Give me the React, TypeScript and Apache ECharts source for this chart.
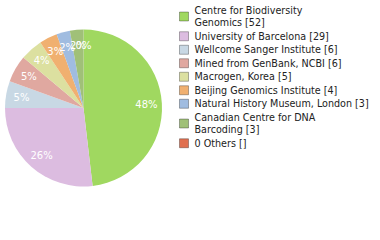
import React, { useEffect, useRef } from "react";
import * as echarts from "echarts";

const names = [
  "Centre for Biodiversity\nGenomics",
  "University of Barcelona",
  "Wellcome Sanger Institute",
  "Mined from GenBank, NCBI",
  "Macrogen, Korea",
  "Beijing Genomics Institute",
  "Natural History Museum, London",
  "Canadian Centre for DNA\nBarcoding",
  "0 Others",
];
const values = [52, 29, 6, 6, 5, 4, 3, 3, 0];
const legendCounts = ["52", "29", "6", "6", "5", "4", "3", "3", ""];
const colors = ["#a0d860", "#dcbce0", "#c8d8e4", "#e0a8a0", "#dce0a0", "#f0b070", "#a0bce0", "#a0c078", "#e07050"];

export default function App() {
  const ref = useRef<HTMLDivElement>(null);
  useEffect(() => {
    const chart = echarts.init(ref.current!, null, { renderer: "svg" });
    const total = values.reduce((a, b) => a + b, 0);
    const data = names.map((n, i) => ({ name: n, value: values[i], itemStyle: { color: colors[i] } }));
    const labelPie = (parity: number) => ({
      type: "pie",
      silent: true,
      center: [83.5, 108],
      radius: [42, 78],
      startAngle: 90,
      clockwise: true,
      avoidLabelOverlap: false,
      legendHoverLink: false,
      minShowLabelAngle: 0,
      labelLayout: { hideOverlap: false },
      itemStyle: { color: "transparent", borderWidth: 0 },
      label: {
        show: true,
        position: "inside",
        color: "#fff",
        fontFamily: "DejaVu Sans",
        fontSize: 10,
        formatter: (p: any) => `${Math.floor((p.value / total) * 100)}%`,
      },
      labelLine: { show: false },
      data: names.map((n, i) => ({
        name: n + " ".repeat(parity + 1),
        value: values[i],
        label: { show: i % 2 === parity },
      })),
    });
    chart.setOption({
      animation: false,
      legend: {
        orient: "vertical",
        left: 174,
        top: -1,
        itemWidth: 9,
        itemHeight: 9,
        itemGap: 1,
        icon: "rect",
        itemStyle: { borderColor: "rgba(0,0,0,0.3)", borderWidth: 1 },
        textStyle: { fontFamily: "DejaVu Sans", fontSize: 9.6, color: "#222", lineHeight: 12.5, padding: [0, 0, 0, 1] },
        formatter: (n: string) => {
          const i = names.indexOf(n);
          return `${n} [${legendCounts[i]}]`;
        },
        data: names,
      },
      series: [
        {
          type: "pie",
          center: [83.5, 108],
          radius: [0, 78.5],
          startAngle: 90,
          clockwise: true,
          minAngle: 0,
          avoidLabelOverlap: false,
          stillShowZeroSum: true,
          label: { show: false },
          labelLine: { show: false },
          itemStyle: { borderWidth: 0 },
          data,
        },
        labelPie(0),
        labelPie(1),
      ],
    });
    return () => chart.dispose();
  }, []);
  return <div ref={ref} style={{ position: "absolute", left: 0, top: 0, width: 380, height: 240 }} />;
}
